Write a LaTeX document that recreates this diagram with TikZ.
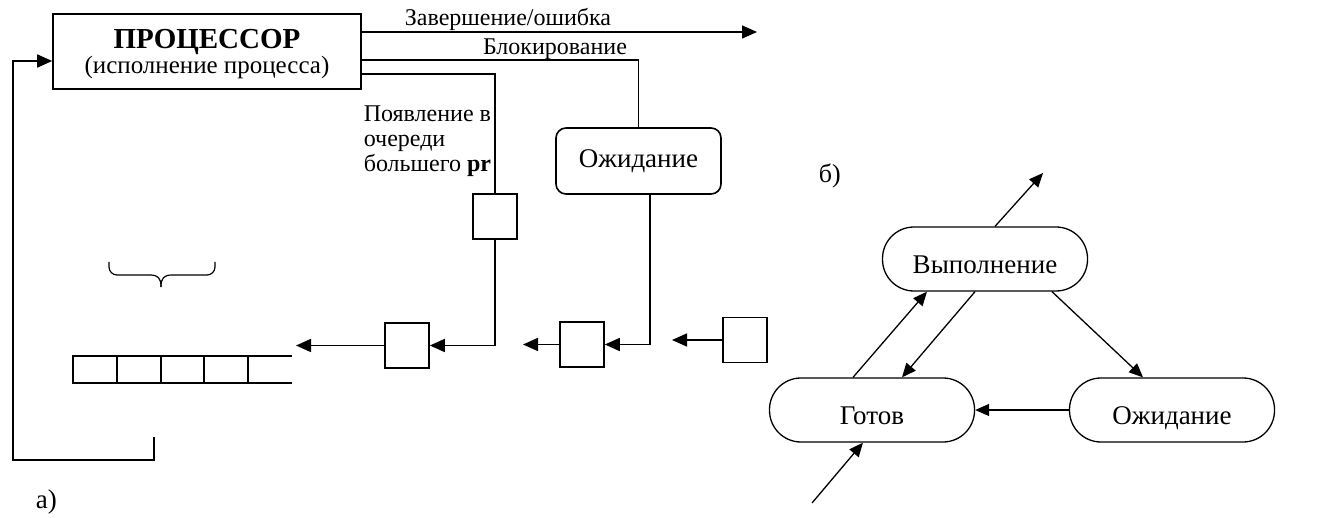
\documentclass[tikz,border=0pt]{standalone}
\usepackage{fontspec}
\setmainfont{Liberation Serif}
\usetikzlibrary{arrows.meta,calc}
\begin{document}
\begin{tikzpicture}[x=1pt,y=-1pt,
  line width=1.6pt,
  arr/.style={-{Triangle[length=15pt,width=13pt]}},
  arrb/.style={line width=1.3pt,-{Triangle[length=14pt,width=12pt]}},
  cell/.style={draw,minimum width=44pt,minimum height=45pt,inner sep=0pt},
  state/.style={draw,line width=1.3pt,rounded corners=31.5pt,minimum width=205pt,
    minimum height=64pt,inner sep=0pt,text height=29pt,text depth=0pt,
    font=\fontsize{27}{30}\selectfont},
  lbl/.style={font=\fontsize{24}{25}\selectfont,inner sep=0pt},
]
\useasboundingbox (0,0) rectangle (1329,518);

% ---------- a) scheduling scheme ----------
\node[draw,minimum width=308pt,minimum height=75pt,inner sep=0pt] (proc) at (207,51.5) {};
\node[inner sep=0pt,align=center,font=\fontsize{25}{25}\selectfont] (proctext) at (207,54.5)
  {{\bfseries\fontsize{29}{25}\selectfont ПРОЦЕССОР}\\(исполнение процесса)};

\node[draw,rounded corners=10pt,minimum width=165pt,minimum height=66pt,
      text height=14pt,text depth=0pt,font=\fontsize{27}{30}\selectfont] (wait) at (638.5,161) {Ожидание};

\node[cell] (sq1) at (495,216.5) {};
\node[cell] (sq3) at (407,345.5) {};
\node[cell] (sq2) at (582,344.5) {};
\node[cell] (sq4) at (745,340) {};

\coordinate (done) at (757,32);
\coordinate (qin) at (296,345.5);
\coordinate (q2in) at (523,344.5);
\coordinate (q4in) at (672,340);
\coordinate (loopend) at (154,437);

% exits from the processor
\draw[arr] (proc.east |- done) -- (done);
\draw ($(proc.east)+(0,8.5)$) -| (wait.north);
\draw ($(proc.east)+(0,22.5)$) -| (sq1.north);

\node[lbl,anchor=base] (lbdone) at (508,26) {Завершение/ошибка};
\node[lbl,anchor=base] (lbblock) at (555,55) {Блокирование};
\node[lbl,anchor=north west,align=left] (lbpre) at (363,105)
  {Появление в\\очереди\\большего \textbf{pr}};

% paths into the ready queue
\draw[arr] (sq1.south) |- (sq3.east);
\draw[arr] ($(wait.south)+(11.5,0)$) |- (sq2.east);
\draw[arr] (sq3.west) -- (qin);
\draw[arr] (sq2.west) -- (q2in);
\draw[arr] (sq4.west) -- (q4in);

% ready queue
\draw (292,356) -- (73,356) -- (73,383) -- (292,383);
\foreach \qx in {117,161,204,248} \draw (\qx,356) -- (\qx,383);

% brace over the queue
\begin{scope}[line width=1.2pt]
  \draw[rounded corners=8pt] (109,262) -- (109,275) -- (150,275);
  \draw (150,275) .. controls (158,275) and (161,278) .. (161,287);
  \draw[rounded corners=8pt] (215,262) -- (215,275) -- (172,275);
  \draw (172,275) .. controls (164,275) and (161,278) .. (161,287);
\end{scope}

% return to the processor
\draw[arr] (loopend) |- (13,460) |- ($(proc.west)+(0,9.5)$);

\node[font=\fontsize{27}{30}\selectfont,anchor=base west,inner sep=0pt]
  (la) at (35,508) {а)};

% ---------- б) state graph ----------
\node[state] (run) at (985,259) {Выполнение};
\node[state] (ready) at (872,410) {Готов};
\node[state] (wait2) at (1172,410) {Ожидание};

\coordinate (out) at (1043,173);
\coordinate (in) at (812,503);

\draw[arrb] ($(run.north)+(10,0)$) -- (out);
\draw[arrb] ($(ready.north)+(-19,0)$) -- ($(run.south)+(-58,0)$);
\draw[arrb] ($(run.south)+(-10,0)$) -- ($(ready.north)+(30,0)$);
\draw[arrb] ($(run.south)+(67,0)$) -- ($(wait2.north)+(-29,0)$);
\draw[arrb] (wait2.west) -- (ready.east);
\draw[arrb] (in) -- ($(ready.south)+(-9,0)$);

\node[font=\fontsize{26}{30}\selectfont,anchor=base west,inner sep=0pt]
  (lb) at (818,183) {б)};
\end{tikzpicture}
\end{document}
